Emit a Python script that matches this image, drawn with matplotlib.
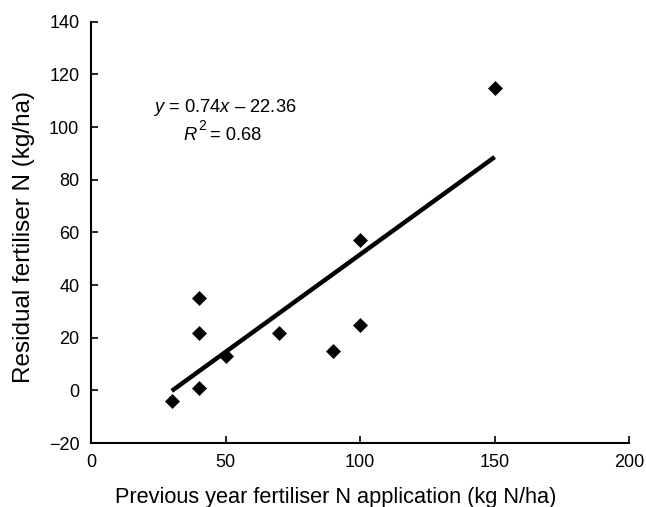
import matplotlib
matplotlib.use("Agg")
import matplotlib.pyplot as plt
import numpy as np

plt.rcParams['font.family'] = ['Liberation Sans', 'DejaVu Sans']
plt.rcParams['mathtext.fontset'] = 'custom'
plt.rcParams['mathtext.rm'] = 'Liberation Sans'
plt.rcParams['mathtext.it'] = 'Liberation Sans:italic'

x_vals = [30, 40, 40, 40, 50, 70, 90, 100, 100, 150]
y_vals = [-4, 1, 22, 35, 13, 22, 15, 25, 57, 115]
slope = 0.74
intercept = -22.36
r2 = 0.68
x_ticks = [0, 50, 100, 150, 200]
y_ticks = [-20, 0, 20, 40, 60, 80, 100, 120, 140]

fig = plt.figure(figsize=(6.46, 5.07), dpi=100)
ax = fig.add_axes([0.141, 0.126, 0.833, 0.831])

ax.scatter(x_vals, y_vals, marker='D', s=58, color='black', zorder=3, linewidths=0)
xl = np.array([min(x_vals), max(x_vals)])
ax.plot(xl, slope * xl + intercept, color='black', lw=3.2, solid_capstyle='butt', zorder=2)

ax.text(49.6, 107.3, r'$\mathit{y}$ = 0.74$\mathit{x}$ – 22.36', ha='center', va='center', fontsize=13.2)
# R^2 line with a larger, higher superscript as in the reference
ax.annotate(r'$\mathit{R}$', xy=(49.6, 97.0), xytext=(-19, 0), textcoords='offset points',
            ha='right', va='center', fontsize=13.2)
ax.annotate('2', xy=(49.6, 97.0), xytext=(-19, 6.5), textcoords='offset points',
            ha='left', va='center', fontsize=10)
ax.annotate(f'= {r2:.2f}', xy=(49.6, 97.0), xytext=(-10.5, 0), textcoords='offset points',
            ha='left', va='center', fontsize=13.2)

ax.set_xlim(0, 200)
ax.set_ylim(-20, 140)
ax.set_xticks(x_ticks)
ax.set_yticks(y_ticks)
ax.set_yticklabels([str(t).replace('-', '−') for t in y_ticks])
ax.tick_params(direction='in', length=5, width=1.2, labelsize=13)
ax.tick_params(axis='y', pad=8.5)
ax.tick_params(axis='x', pad=7.5)
for s in ['top', 'right']:
    ax.spines[s].set_visible(False)
for s in ['left', 'bottom']:
    ax.spines[s].set_linewidth(1.5)

ax.set_xlabel('Previous year fertiliser N application (kg N/ha)', fontsize=15.7)
ax.xaxis.set_label_coords(0.455, -0.103)
ax.set_ylabel('Residual fertiliser N (kg/ha)', fontsize=17.5)
ax.yaxis.set_label_coords(-0.104, 0.49)

fig.savefig('out.png', dpi=100)
